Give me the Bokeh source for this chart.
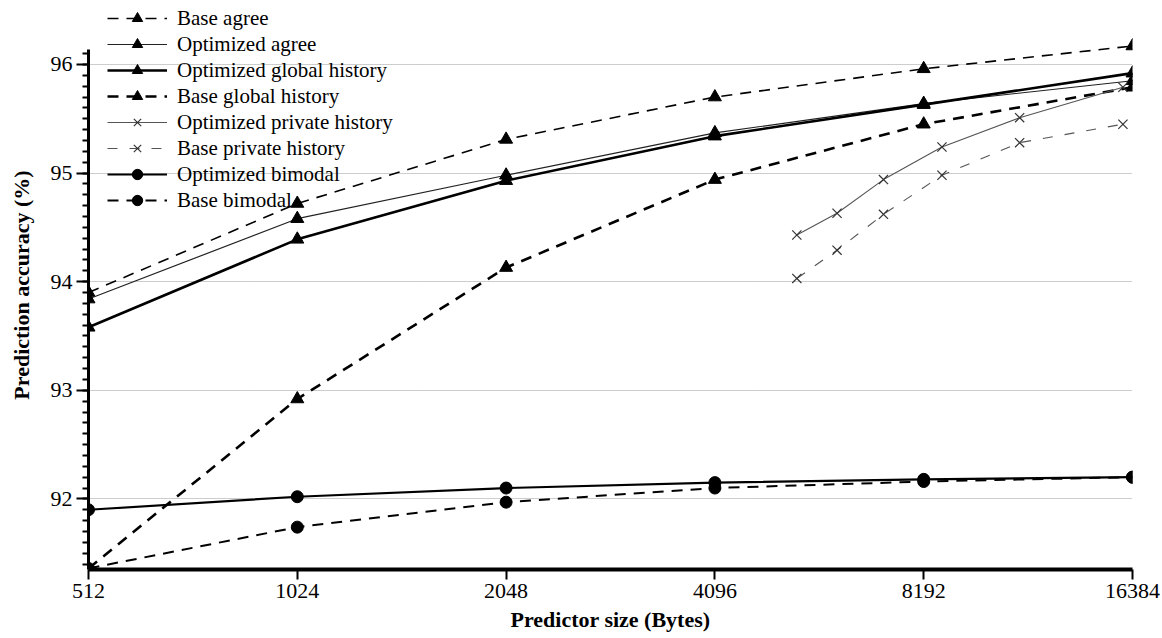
from bokeh.plotting import figure
from bokeh.models import (FixedTicker, Legend, LegendItem, Range1d)
from bokeh.embed import file_html
from bokeh.resources import INLINE

# Predictor sizes (bytes) for the agree / global history / bimodal predictors
sizes = [512, 1024, 2048, 4096, 8192, 16384]
# Private history predictors come in irregular sizes
private_sizes = [5376, 6144, 7168, 8704, 11264, 15872]

base_agree = [93.90, 94.72, 95.31, 95.70, 95.96, 96.17]
opt_agree = [93.84, 94.58, 94.98, 95.37, 95.64, 95.85]
opt_global = [93.58, 94.39, 94.93, 95.34, 95.63, 95.92]
base_global = [91.36, 92.92, 94.13, 94.94, 95.45, 95.79]
opt_private = [94.43, 94.63, 94.94, 95.24, 95.51, 95.79]
base_private = [94.03, 94.29, 94.62, 94.98, 95.28, 95.45]
opt_bimodal = [91.90, 92.02, 92.10, 92.15, 92.18, 92.20]
base_bimodal = [91.36, 91.74, 91.97, 92.10, 92.16, 92.20]

x_tick_labels = ["512", "1024", "2048", "4096", "8192", "16384"]
y_ticks = [92, 93, 94, 95, 96]
y_minor = [round(91.4 + 0.1 * i, 1) for i in range(48)]

FONT = "Liberation Serif"

# The frame reaches the top of the page so the legend can sit above the
# end of the y axis; the axis line itself is cut short with `bounds`.
p = figure(width=1162, height=638, x_axis_type="log",
           x_range=Range1d(512, 16384), y_range=Range1d(91.35, 96.589),
           output_backend="svg", toolbar_location=None,
           min_border_left=88, min_border_right=30,
           min_border_top=0, min_border_bottom=69)
p.outline_line_color = None
p.background_fill_color = "white"
p.border_fill_color = "white"

# axes
p.xaxis.ticker = FixedTicker(ticks=sizes)
p.xaxis.major_label_overrides = {s: l for s, l in zip(sizes, x_tick_labels)}
p.yaxis.ticker = FixedTicker(ticks=y_ticks, minor_ticks=y_minor)
p.yaxis.bounds = (91.35, 96.14)
for ax in (p.xaxis[0], p.yaxis[0]):
    ax.axis_line_color = "black"
    ax.major_tick_line_color = "black"
    ax.major_label_text_font = FONT
    ax.major_label_text_font_size = "22px"
    ax.major_label_text_color = "black"
    ax.axis_label_text_font = FONT
    ax.axis_label_text_font_style = "bold"
    ax.axis_label_text_font_size = "22px"
    ax.axis_label_text_color = "black"
    ax.major_tick_in = 0
p.xaxis.axis_line_width = 4
p.xaxis.major_tick_line_width = 2
p.xaxis.major_tick_out = 10
p.xaxis.minor_tick_line_color = None
p.xaxis.major_label_standoff = 4
p.xaxis.axis_label = "Predictor size (Bytes)"
p.xaxis.axis_label_standoff = 6

p.yaxis.axis_line_width = 3
p.yaxis.major_tick_line_width = 2
p.yaxis.major_tick_out = 12
p.yaxis.minor_tick_out = 6
p.yaxis.minor_tick_in = 0
p.yaxis.minor_tick_line_width = 2
p.yaxis.minor_tick_line_color = "black"
p.yaxis.major_label_standoff = 4
p.yaxis.axis_label = "Prediction accuracy (%)"
p.yaxis.axis_label_standoff = 14

p.xgrid.grid_line_color = None
p.ygrid.grid_line_color = "#9a9a9a"
p.ygrid.grid_line_dash = "1 1"
p.ygrid.grid_line_width = 1

DASH = "11 8"

def series(xs, ys, marker, size, lw, dash, color="black", mcolor="black"):
    ln = p.line(xs, ys, line_color=color, line_width=lw, line_dash=dash)
    if marker == "x":
        mk = p.scatter(xs, ys, marker="x", size=size, line_color=mcolor,
                       line_width=1.2)
    else:
        mk = p.scatter(xs, ys, marker=marker, size=size, fill_color=mcolor,
                       line_color=mcolor)
    return [ln, mk]

r_base_agree = series(sizes, base_agree, "triangle", 13, 1.6, DASH)
r_opt_agree = series(sizes, opt_agree, "triangle", 13, 1.2, "solid", "#222222")
r_opt_global = series(sizes, opt_global, "triangle", 13, 2.6, "solid")
r_base_global = series(sizes, base_global, "triangle", 13, 2.6, DASH)
r_opt_private = series(private_sizes, opt_private, "x", 13, 1.1, "solid",
                       "#555555", "#333333")
r_base_private = series(private_sizes, base_private, "x", 13, 1.1, "10 12",
                        "#555555", "#333333")
r_opt_bimodal = series(sizes, opt_bimodal, "circle", 12, 2.2, "solid")
r_base_bimodal = series(sizes, base_bimodal, "circle", 12, 2.0, DASH)

items = [
    LegendItem(label="Base agree", renderers=r_base_agree),
    LegendItem(label="Optimized agree", renderers=r_opt_agree),
    LegendItem(label="Optimized global history", renderers=r_opt_global),
    LegendItem(label="Base global history", renderers=r_base_global),
    LegendItem(label="Optimized private history", renderers=r_opt_private),
    LegendItem(label="Base private history", renderers=r_base_private),
    LegendItem(label="Optimized bimodal", renderers=r_opt_bimodal),
    LegendItem(label="Base bimodal", renderers=r_base_bimodal),
]
legend = Legend(items=items, location=(19, 356), margin=0, padding=0,
                spacing=0, glyph_width=60, glyph_height=26, label_height=26,
                label_standoff=10, label_text_font=FONT,
                label_text_font_size="21px", label_text_color="black",
                background_fill_alpha=0, border_line_alpha=0)
p.add_layout(legend, "center")

open("out.html", "w").write(file_html(p, INLINE))
